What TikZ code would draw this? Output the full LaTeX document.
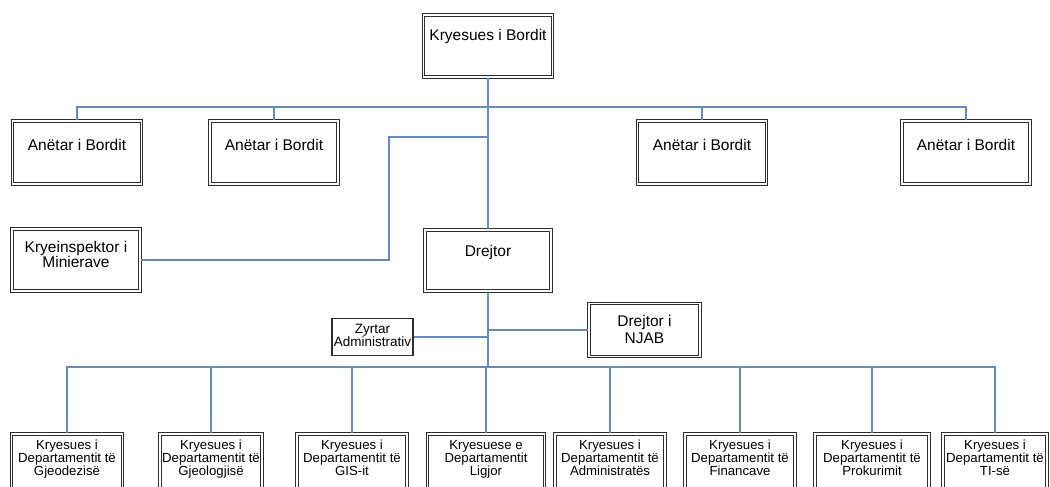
\documentclass[tikz,border=0pt]{standalone}
\usepackage{fontspec}
\setmainfont{Liberation Sans}
\definecolor{linkblue}{RGB}{98,138,196}
\definecolor{boxgray}{RGB}{45,45,45}
% box text: height, width, first-baseline offset, lines
\newcommand\boxlabel[4]{\parbox[c][#1][t]{#2}{\centering\rule{0pt}{#3}#4\par}}
\tikzset{
  frametwo/.style={draw=boxgray, line width=1.1pt, double=white, double distance=1.6pt, inner sep=0pt, fill=white},
  frameone/.style={draw=boxgray, line width=1.3pt, inner sep=0pt, fill=white},
  conn/.style={draw=linkblue, line width=1.6pt},
  bigtext/.style={font=\fontsize{15.5}{17}\selectfont},
  tighttext/.style={font=\fontsize{15.5}{11}\selectfont},
  smalltext/.style={font=\fontsize{13.5}{10}\selectfont},
  depttext/.style={font=\fontsize{13.2}{9.5}\selectfont},
}
\begin{document}
\begin{tikzpicture}[x=1pt,y=-1pt]
\clip (0,0) rectangle (1050,487);
\fill[white] (0,0) rectangle (1050,487);

% board
\node[frametwo,bigtext] (top) at (488,46) {\boxlabel{62pt}{129pt}{26pt}{Kryesues i Bordit}};
\node[frametwo,bigtext] (a1) at (77,152.5) {\boxlabel{63pt}{129pt}{29pt}{Anëtar i Bordit}};
\node[frametwo,bigtext] (a2) at (274,152.5) {\boxlabel{63pt}{128pt}{29pt}{Anëtar i Bordit}};
\node[frametwo,bigtext] (a3) at (702,152.5) {\boxlabel{63pt}{129pt}{29pt}{Anëtar i Bordit}};
\node[frametwo,bigtext] (a4) at (966,152.5) {\boxlabel{63pt}{128pt}{29pt}{Anëtar i Bordit}};

% management
\node[frametwo,tighttext] (kry) at (76,260) {\boxlabel{62pt}{128pt}{23pt}{Kryeinspektor i\\Minierave}};
\node[frametwo,bigtext] (drejtor) at (488,260.5) {\boxlabel{61pt}{126pt}{26pt}{Drejtor}};
\node[frameone,smalltext] (zyr) at (372.5,337) {\boxlabel{37pt}{81pt}{14.5pt}{Zyrtar\\Administrativ}};
\node[frametwo,bigtext] (njab) at (644.5,330) {\boxlabel{53pt}{111pt}{22.5pt}{Drejtor i\\NJAB}};

% departments
\node[frametwo,depttext] (b1) at (67,472) {\boxlabel{76pt}{111pt}{15pt}{Kryesues i\\Departamentit të\\Gjeodezisë}};
\node[frametwo,depttext] (b2) at (211,472) {\boxlabel{76pt}{102pt}{15pt}{Kryesues i\\Departamentit të\\Gjeologjisë}};
\node[frametwo,depttext] (b3) at (352,472) {\boxlabel{76pt}{110pt}{15pt}{Kryesues i\\Departamentit të\\GIS-it}};
\node[frametwo,depttext] (b4) at (486,472) {\boxlabel{76pt}{117pt}{15pt}{Kryesuese e\\Departamentit\\Ligjor}};
\node[frametwo,depttext] (b5) at (610,472) {\boxlabel{76pt}{110pt}{15pt}{Kryesues i\\Departamentit të\\Administratës}};
\node[frametwo,depttext] (b6) at (740,472) {\boxlabel{76pt}{110pt}{15pt}{Kryesues i\\Departamentit të\\Financave}};
\node[frametwo,depttext] (b7) at (872,472) {\boxlabel{76pt}{114pt}{15pt}{Kryesues i\\Departamentit të\\Prokurimit}};
\node[frametwo,depttext] (b8) at (995,472) {\boxlabel{76pt}{104pt}{15pt}{Kryesues i\\Departamentit të\\TI-së}};

% junction points
\coordinate (bus1) at (488,107);
\coordinate (kj) at (389,137);
\coordinate (bus2) at (488,367);

% connectors
\draw[conn] (top.south) -- (top.south |- drejtor.north);
\draw[conn] (a1.north) -- (a1.north |- bus1) -- (a4.north |- bus1) -- (a4.north);
\draw[conn] (a2.north) -- (a2.north |- bus1);
\draw[conn] (a3.north) -- (a3.north |- bus1);
\draw[conn] (kry.east) -| (kj) -- (kj -| top.south);
\draw[conn] (drejtor.south) -- (drejtor.south |- bus2);
\draw[conn] (zyr.east) -- (zyr.east -| drejtor.south);
\draw[conn] (njab.west) -- (njab.west -| drejtor.south);
\draw[conn] (b1.north) -- (b1.north |- bus2) -- (b8.north |- bus2) -- (b8.north);
\foreach \b in {b2,b3,b4,b5,b6,b7}
  \draw[conn] (\b.north) -- (\b.north |- bus2);
\end{tikzpicture}
\end{document}
